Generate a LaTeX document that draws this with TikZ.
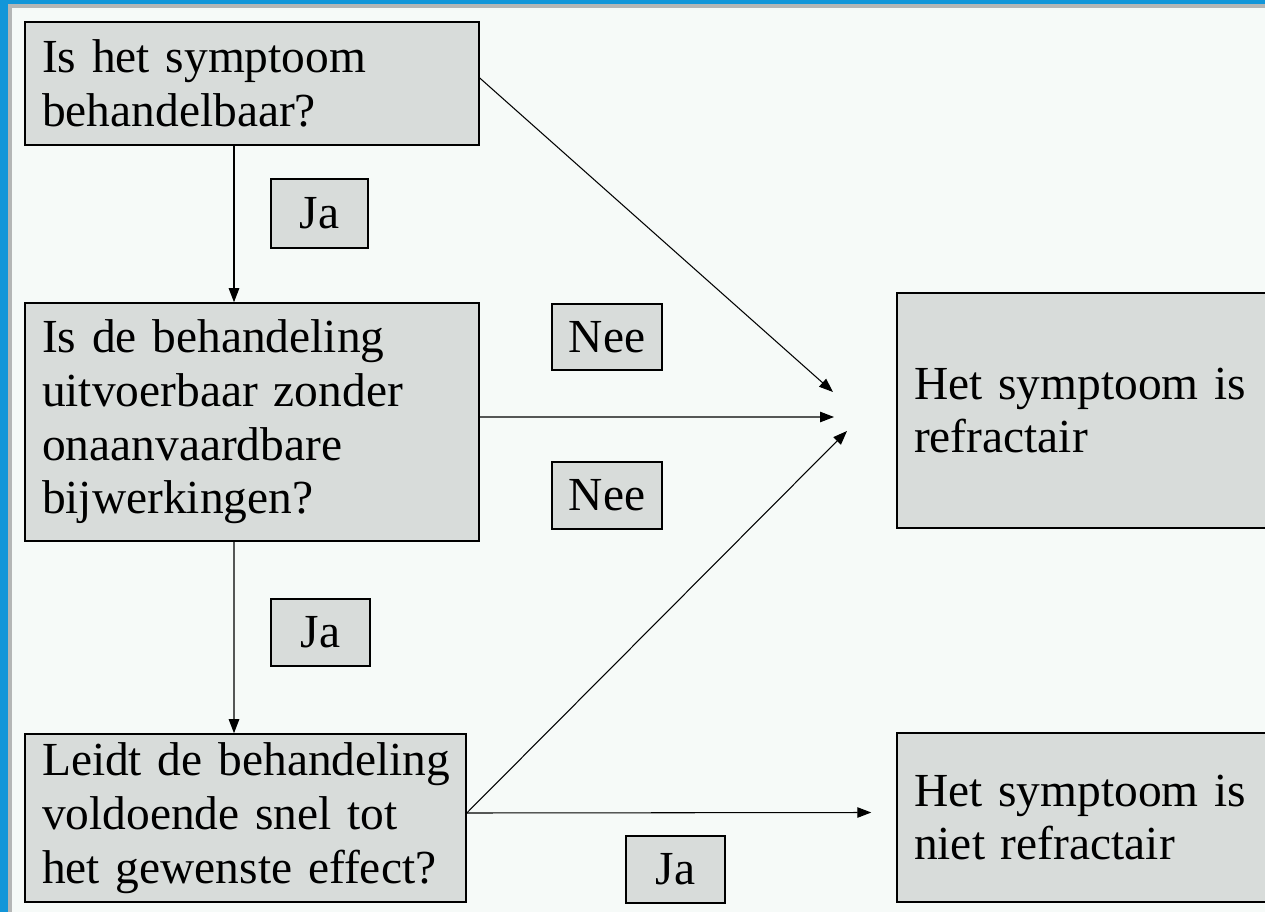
\documentclass[tikz,border=0pt]{standalone}
\usepackage{fontspec}
\setmainfont{Liberation Serif}
\usepackage{tikz}
\usetikzlibrary{arrows.meta,positioning,calc}

\definecolor{frameblue}{HTML}{1296D9}
\definecolor{framegray}{HTML}{B4B6B6}
\definecolor{paper}{HTML}{F6FAF8}
\definecolor{boxgray}{HTML}{D8DCDA}

\begin{document}
\begin{tikzpicture}[
    x=0.02cm, y=-0.02cm,
    question/.style={rectangle, draw, line width=0.9pt, fill=boxgray, align=left,
        inner xsep=0.34cm, font=\fontsize{27}{30.6}\selectfont},
    answer/.style={rectangle, draw, line width=0.9pt, fill=boxgray,
        font=\fontsize{27}{30}\selectfont},
    arr/.style={-{Triangle[length=0.28cm,width=0.21cm]}, line width=0.6pt}
]
    % frame
    \useasboundingbox (0,0) rectangle (1265,912);
    \fill[frameblue] (0,0) rectangle (1265,912);
    \fill[framegray] (8,4) rectangle (1265,912);
    \fill[paper] (12,8) rectangle (1265,912);

    \node[question, minimum width=9.08cm, minimum height=2.46cm, text width=8.4cm] (q1) at (252,83.5)
        {Is het symptoom\\behandelbaar?};
    \node[question, minimum width=9.08cm, minimum height=4.76cm, text width=8.4cm] (q2) at (252,422)
        {Is de behandeling\\uitvoerbaar zonder\\onaanvaardbare\\bijwerkingen?};
    \node[question, minimum width=8.82cm, minimum height=3.36cm, text width=8.14cm] (q3) at (245.5,818)
        {\mbox{Leidt de behandeling}\\voldoende snel tot\\het gewenste effect?};

    \node[question, minimum width=7.86cm, minimum height=4.7cm, text width=7.18cm] (ref) at (1093.5,410.5)
        {Het symptoom is\\refractair};
    \node[question, minimum width=7.86cm, minimum height=3.38cm, text width=7.18cm] (nref) at (1093.5,817.5)
        {Het symptoom is\\niet refractair};

    \node[answer, minimum width=1.94cm, minimum height=1.38cm] (ja1) at (319.5,213.5) {Ja};
    \node[answer, minimum width=1.98cm, minimum height=1.34cm] (ja2) at (320.5,632.5) {Ja};
    \node[answer, minimum width=1.98cm, minimum height=1.34cm] (ja3) at (675.5,869.5) {Ja};
    \node[answer, minimum width=2.2cm, minimum height=1.32cm] (nee1) at (607,337) {Nee};
    \node[answer, minimum width=2.2cm, minimum height=1.34cm] (nee2) at (607,495.5) {Nee};

    \coordinate (t1) at (833,392);
    \coordinate (t2) at (834,417);
    \coordinate (t3) at (847,431);

    \draw[arr] ([xshift=-0.36cm]q1.south) -- ([xshift=-0.36cm]q2.north);
    \draw[arr] ([xshift=-0.36cm]q2.south) -- ([xshift=-0.23cm]q3.north);
    \draw[arr] ([yshift=0.11cm]q1.east) -- (t1);
    \draw[arr] ([yshift=0.1cm]q2.east) -- (t2);
    \draw[arr] ([yshift=0.1cm]q3.east) -- (t3);
    \draw[arr] ([yshift=0.1cm]q3.east) -- ([xshift=-0.5cm,yshift=0.1cm]nref.west);
\end{tikzpicture}
\end{document}
